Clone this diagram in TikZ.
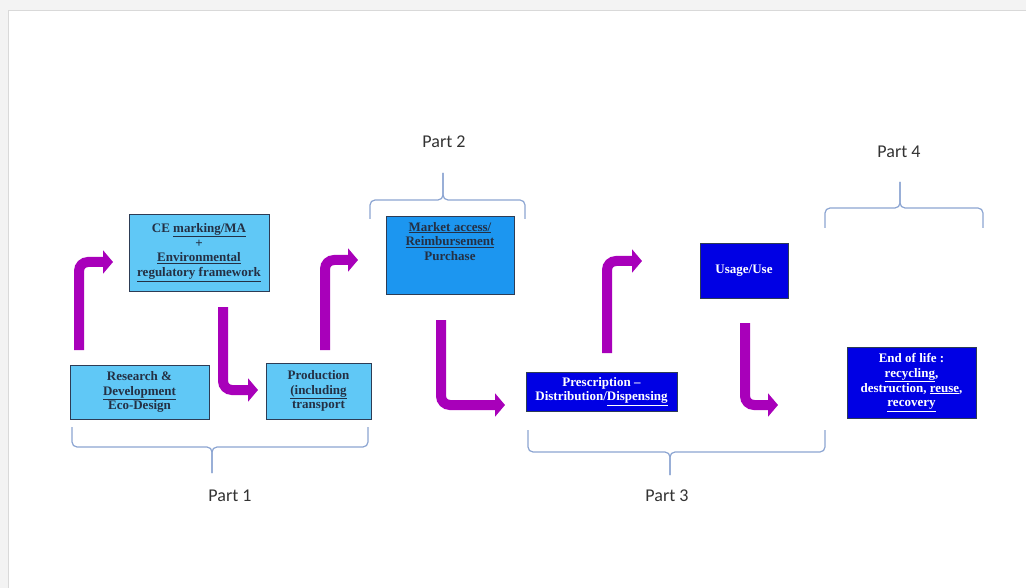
\documentclass[tikz,border=0pt]{standalone}
\usepackage{fontspec}
\setmainfont{Liberation Serif}
\newfontfamily\labfont{Carlito}
\usetikzlibrary{arrows.meta}
\definecolor{lightbox}{RGB}{96,200,246}
\definecolor{midbox}{RGB}{28,150,240}
\definecolor{darkbox}{RGB}{0,0,228}
\definecolor{boxline}{RGB}{45,60,85}
\definecolor{arrowcol}{RGB}{168,0,186}
\definecolor{bracecol}{RGB}{140,165,210}
\definecolor{pagegray}{RGB}{243,243,243}
\newcommand\sqline[1]{\underline{#1}}
\tikzset{
  boxbase/.style={draw=boxline, line width=0.9pt, align=center, inner sep=1pt,
    font=\bfseries\fontsize{13}{14.8}\selectfont},
  lightnode/.style={boxbase, fill=lightbox, text=boxline!80!black},
  midnode/.style={boxbase, fill=midbox, text=boxline!80!black},
  darknode/.style={boxbase, fill=darkbox, text=white},
  bentarrow/.style={draw=arrowcol, line width=10pt, rounded corners=9pt,
    -{Triangle[length=10pt,width=23pt]}},
  bracket/.style={draw=bracecol, line width=1.2pt, rounded corners=5pt},
  partlabel/.style={font=\labfont\fontsize{18}{21}\selectfont, text=black!80},
}
\begin{document}
\begin{tikzpicture}[x=1pt,y=-1pt]
\useasboundingbox (0,0) rectangle (1026,588);
\fill[pagegray] (0,0) rectangle (1026,588);
\draw[fill=white, draw=black!15, line width=1pt] (8,11) rectangle (1030,592);

% boxes
\node[lightnode, minimum width=139pt, minimum height=54pt] (rd) at (139.5,392)
  {Research \&\\ \sqline{Development}\\ Eco-Design};
\node[lightnode, minimum width=140pt, minimum height=77pt] (ce) at (199,252.5)
  {CE \sqline{marking/MA}\\ +\\ \sqline{Environmental}\\ \sqline{regulatory framework}};
\node[lightnode, minimum width=105pt, minimum height=56pt] (prod) at (318.5,391)
  {Production\\ \sqline{(including}\\ transport};
\node[midnode, minimum width=128pt, minimum height=78pt] (ma) at (450,255)
  {\parbox[c][72pt][t]{124pt}{\centering\vspace{3pt}\sqline{Market access/}\\ \sqline{Reimbursement}\\ Purchase}};
\node[darknode, minimum width=151pt, minimum height=39pt] (presc) at (601.5,391.5)
  {Prescription --\\ Distribution/\sqline{Dispensing}};
\node[darknode, minimum width=88pt, minimum height=55pt] (use) at (744,270.5)
  {Usage/Use};
\node[darknode, minimum width=129pt, minimum height=71pt] (eol) at (911.5,382.5)
  {End of life :\\ \sqline{recycling},\\ destruction, \sqline{reuse},\\ \sqline{recovery}};

% arrow end points
\coordinate (a1s) at (79,350);  \coordinate (a1b) at (79,262);  \coordinate (a1e) at (113,262);
\coordinate (a2s) at (223,307); \coordinate (a2b) at (223,390); \coordinate (a2e) at (258,390);
\coordinate (a3s) at (325,350); \coordinate (a3b) at (325,260); \coordinate (a3e) at (358,260);
\coordinate (a4s) at (441,320); \coordinate (a4b) at (441,405); \coordinate (a4e) at (505,405);
\coordinate (a5s) at (607,353); \coordinate (a5b) at (607,261); \coordinate (a5e) at (642,261);
\coordinate (a6s) at (745,323); \coordinate (a6b) at (745,405); \coordinate (a6e) at (778,405);
\draw[bentarrow] (a1s) -- (a1b) -- (a1e);
\draw[bentarrow] (a2s) -- (a2b) -- (a2e);
\draw[bentarrow] (a3s) -- (a3b) -- (a3e);
\draw[bentarrow] (a4s) -- (a4b) -- (a4e);
\draw[bentarrow] (a5s) -- (a5b) -- (a5e);
\draw[bentarrow] (a6s) -- (a6b) -- (a6e);

% braces
% Part 1
\coordinate (p1l) at (72,427); \coordinate (p1r) at (368,427); \coordinate (p1t) at (212,473);
\draw[bracket] (p1l) -- (72,447) -- (212,447) -- (p1t);
\draw[bracket] (p1r) -- (368,447) -- (212,447) -- (p1t);
\node[partlabel] (part1) at (230,496) {Part 1};
% Part 2
\coordinate (p2l) at (370,219); \coordinate (p2r) at (525,219); \coordinate (p2t) at (443,173);
\draw[bracket] (p2l) -- (370,200) -- (443,200) -- (p2t);
\draw[bracket] (p2r) -- (525,200) -- (443,200) -- (p2t);
\node[partlabel] (part2) at (444,142) {Part 2};
% Part 3
\coordinate (p3l) at (528,430); \coordinate (p3r) at (825,430); \coordinate (p3t) at (670,475);
\draw[bracket] (p3l) -- (528,452) -- (670,452) -- (p3t);
\draw[bracket] (p3r) -- (825,452) -- (670,452) -- (p3t);
\node[partlabel] (part3) at (667,496) {Part 3};
% Part 4
\coordinate (p4l) at (825,228); \coordinate (p4r) at (983,228); \coordinate (p4t) at (900,182);
\draw[bracket] (p4l) -- (825,208) -- (900,208) -- (p4t);
\draw[bracket] (p4r) -- (983,208) -- (900,208) -- (p4t);
\node[partlabel] (part4) at (899,152) {Part 4};
\end{tikzpicture}
\end{document}
